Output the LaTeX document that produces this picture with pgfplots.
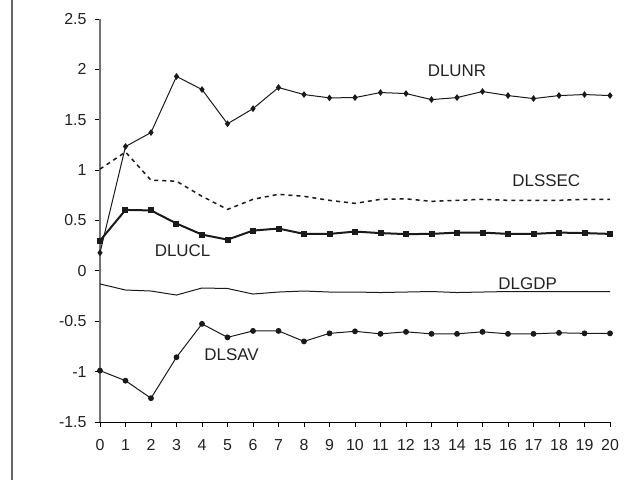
\documentclass[border=0pt]{standalone}
\usepackage{pgfplots}
\pgfplotsset{compat=1.18}
\usepackage{fontspec}
\setmainfont{Liberation Sans}
\definecolor{ln}{HTML}{1A1A1A}
\definecolor{txt}{HTML}{222222}
\begin{document}
\begin{tikzpicture}
\path[use as bounding box] (-100bp,-58bp) rectangle (527bp,422bp);
\draw[color=black!60, line width=2bp] (-88bp,-60bp) -- (-88bp,424bp);
\begin{axis}[
  at={(0,0)}, anchor=south west,
  scale only axis, width=510bp, height=403bp,
  xmin=0, xmax=20, ymin=-1.5, ymax=2.5,
  axis x line*=bottom, axis y line*=left,
  x axis line style={black, line width=1bp},
  y axis line style={black!55, line width=1.5bp},
  xtick={0,...,20},
  xticklabels={0,1,2,3,4,5,6,7,8,9,10,11,12,13,14,15,16,17,18,19,20},
  ytick={-1.5,-1,-0.5,0,0.5,1,1.5,2,2.5},
  yticklabels={-1.5,-1,-0.5,0,0.5,1,1.5,2,2.5},
  tick align=outside, major tick length=5bp,
  tick style={black, line width=0.8bp},
  ticklabel style={font=\fontsize{16}{18}\selectfont, text=txt},
  xticklabel style={yshift=-9bp},
  yticklabel style={xshift=-5bp},
  clip=false,
]
% DLUNR
\addplot[ln, line width=1bp, mark=diamond*, mark size=2.6bp, mark options={solid, fill=ln}] coordinates {
(0,0.18)(1,1.234)(2,1.373)(3,1.93)(4,1.80)(5,1.46)(6,1.61)(7,1.82)(8,1.75)(9,1.717)(10,1.72)
(11,1.77)(12,1.76)(13,1.70)(14,1.72)(15,1.78)(16,1.74)(17,1.71)(18,1.74)(19,1.75)(20,1.74)};
% DLSSEC
\addplot[ln, line width=1.5bp, dash pattern=on 4bp off 4bp] coordinates {
(0,1.01)(1,1.18)(2,0.90)(3,0.89)(4,0.74)(5,0.61)(6,0.71)(7,0.76)(8,0.74)(9,0.70)(10,0.67)
(11,0.71)(12,0.715)(13,0.69)(14,0.70)(15,0.71)(16,0.70)(17,0.70)(18,0.70)(19,0.71)(20,0.71)};
% DLUCL
\addplot[ln, line width=2bp, mark=square*, mark size=2bp, mark options={solid, fill=ln}] coordinates {
(0,0.30)(1,0.605)(2,0.60)(3,0.47)(4,0.36)(5,0.31)(6,0.40)(7,0.42)(8,0.367)(9,0.367)(10,0.39)
(11,0.375)(12,0.365)(13,0.367)(14,0.38)(15,0.38)(16,0.367)(17,0.367)(18,0.38)(19,0.375)(20,0.367)};
% DLGDP
\addplot[ln, line width=1bp] coordinates {
(0,-0.13)(1,-0.19)(2,-0.20)(3,-0.24)(4,-0.17)(5,-0.175)(6,-0.23)(7,-0.21)(8,-0.20)(9,-0.21)(10,-0.21)
(11,-0.215)(12,-0.21)(13,-0.205)(14,-0.215)(15,-0.21)(16,-0.205)(17,-0.205)(18,-0.205)(19,-0.205)(20,-0.205)};
% DLSAV
\addplot[ln, line width=1bp, mark=*, mark size=2.4bp, mark options={solid, fill=ln}] coordinates {
(0,-0.99)(1,-1.09)(2,-1.264)(3,-0.857)(4,-0.526)(5,-0.66)(6,-0.596)(7,-0.596)(8,-0.70)(9,-0.62)(10,-0.60)
(11,-0.625)(12,-0.605)(13,-0.625)(14,-0.625)(15,-0.605)(16,-0.625)(17,-0.625)(18,-0.615)(19,-0.62)(20,-0.62)};
\begin{scope}[every node/.style={font=\fontsize{17}{19}\selectfont, text=txt, inner sep=0pt}]
\node at (axis cs:14.0,1.985) {DLUNR};
\node at (axis cs:17.5,0.90) {DLSSEC};
\node at (axis cs:3.24,0.20) {DLUCL};
\node at (axis cs:16.77,-0.13) {DLGDP};
\node at (axis cs:5.16,-0.83) {DLSAV};
\end{scope}
\end{axis}
\end{tikzpicture}
\end{document}
